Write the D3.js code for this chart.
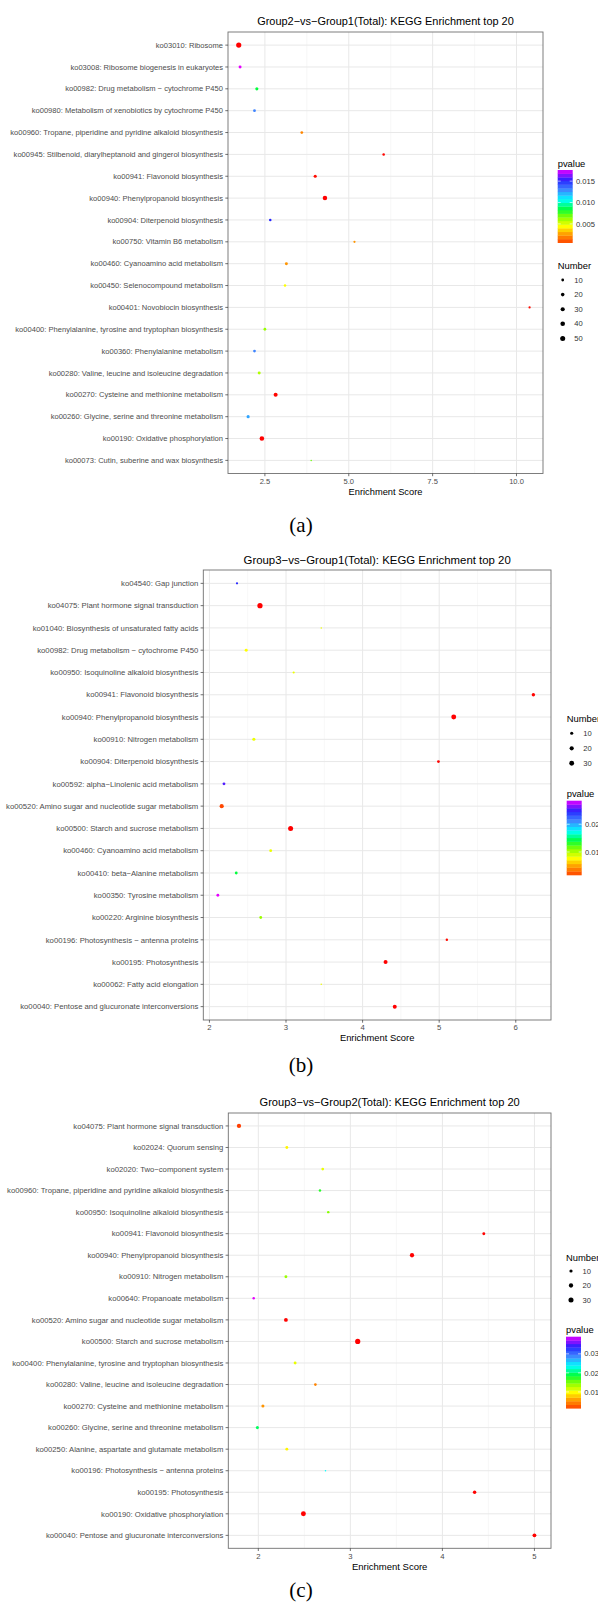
<!DOCTYPE html>
<html lang="en">
<head>
    <meta charset="UTF-8">
    <title>KEGG Enrichment top 20</title>
    <script src="https://d3js.org/d3.v7.min.js"></script>
    <style>
        body { margin: 0; padding: 0; background: #ffffff; overflow: hidden; }
        svg { display: block; font-family: "Liberation Sans", Arial, sans-serif; }
        .ylab, .xlab { fill: #4d4d4d; }
        .ptitle { fill: #000; }
        .axtitle { fill: #000; }
        .legtitle { fill: #000; font-size: 9.4px; }
        .leglab { fill: #333; font-size: 7.6px; }
        .caption { fill: #000; font-family: "Liberation Serif", "Times New Roman", serif; font-size: 21px; }
    </style>
</head>
<body>
<svg id="chart" width="598" height="1622"></svg>
<script>
    // --- data: panel (a) Group2 vs Group1 ---
    const termsA = [
        "ko03010: Ribosome",
        "ko03008: Ribosome biogenesis in eukaryotes",
        "ko00982: Drug metabolism \u2212 cytochrome P450",
        "ko00980: Metabolism of xenobiotics by cytochrome P450",
        "ko00960: Tropane, piperidine and pyridine alkaloid biosynthesis",
        "ko00945: Stilbenoid, diarylheptanoid and gingerol biosynthesis",
        "ko00941: Flavonoid biosynthesis",
        "ko00940: Phenylpropanoid biosynthesis",
        "ko00904: Diterpenoid biosynthesis",
        "ko00750: Vitamin B6 metabolism",
        "ko00460: Cyanoamino acid metabolism",
        "ko00450: Selenocompound metabolism",
        "ko00401: Novobiocin biosynthesis",
        "ko00400: Phenylalanine, tyrosine and tryptophan biosynthesis",
        "ko00360: Phenylalanine metabolism",
        "ko00280: Valine, leucine and isoleucine degradation",
        "ko00270: Cysteine and methionine metabolism",
        "ko00260: Glycine, serine and threonine metabolism",
        "ko00190: Oxidative phosphorylation",
        "ko00073: Cutin, suberine and wax biosynthesis"
    ];
    const scoreA = [1.72, 1.76, 2.26, 2.19, 3.60, 6.04, 4.00, 4.29, 2.66, 5.17,
                    3.14, 3.10, 10.39, 2.50, 2.19, 2.33, 2.82, 2.00, 2.41, 3.88];
    const countA = [55, 12, 14, 10, 10, 8, 14, 38, 8, 6,
                    12, 8, 6, 10, 10, 12, 28, 14, 40, 4];
    const pvalA = [0.0006, 0.0176, 0.0091, 0.0134, 0.0032, 0.0007, 0.0008, 0.0006, 0.0154, 0.0035,
                   0.0035, 0.0054, 0.0008, 0.0071, 0.0134, 0.0067, 0.0007, 0.0128, 0.0006, 0.0077];

    // --- data: panel (b) Group3 vs Group1 ---
    const termsB = [
        "ko04540: Gap junction",
        "ko04075: Plant hormone signal transduction",
        "ko01040: Biosynthesis of unsaturated fatty acids",
        "ko00982: Drug metabolism \u2212 cytochrome P450",
        "ko00950: Isoquinoline alkaloid biosynthesis",
        "ko00941: Flavonoid biosynthesis",
        "ko00940: Phenylpropanoid biosynthesis",
        "ko00910: Nitrogen metabolism",
        "ko00904: Diterpenoid biosynthesis",
        "ko00592: alpha\u2212Linolenic acid metabolism",
        "ko00520: Amino sugar and nucleotide sugar metabolism",
        "ko00500: Starch and sucrose metabolism",
        "ko00460: Cyanoamino acid metabolism",
        "ko00410: beta\u2212Alanine metabolism",
        "ko00350: Tyrosine metabolism",
        "ko00220: Arginine biosynthesis",
        "ko00196: Photosynthesis \u2212 antenna proteins",
        "ko00195: Photosynthesis",
        "ko00062: Fatty acid elongation",
        "ko00040: Pentose and glucuronate interconversions"
    ];
    const scoreB = [2.36, 2.66, 3.46, 2.48, 3.10, 6.23, 5.19, 2.58, 4.99, 2.19,
                    2.16, 3.06, 2.80, 2.35, 2.11, 2.67, 5.10, 4.30, 3.46, 4.42];
    const countB = [5, 35, 4, 9, 5, 12, 30, 10, 8, 8,
                    20, 32, 8, 8, 8, 8, 6, 18, 4, 18];
    const pvalB = [0.0250, 0.0017, 0.0097, 0.0092, 0.0097, 0.0018, 0.0017, 0.0097, 0.0018, 0.0258,
                   0.0038, 0.0017, 0.0097, 0.0151, 0.0285, 0.0119, 0.0020, 0.0017, 0.0097, 0.0017];

    // --- data: panel (c) Group3 vs Group2 ---
    const termsC = [
        "ko04075: Plant hormone signal transduction",
        "ko02024: Quorum sensing",
        "ko02020: Two\u2212component system",
        "ko00960: Tropane, piperidine and pyridine alkaloid biosynthesis",
        "ko00950: Isoquinoline alkaloid biosynthesis",
        "ko00941: Flavonoid biosynthesis",
        "ko00940: Phenylpropanoid biosynthesis",
        "ko00910: Nitrogen metabolism",
        "ko00640: Propanoate metabolism",
        "ko00520: Amino sugar and nucleotide sugar metabolism",
        "ko00500: Starch and sucrose metabolism",
        "ko00400: Phenylalanine, tyrosine and tryptophan biosynthesis",
        "ko00280: Valine, leucine and isoleucine degradation",
        "ko00270: Cysteine and methionine metabolism",
        "ko00260: Glycine, serine and threonine metabolism",
        "ko00250: Alanine, aspartate and glutamate metabolism",
        "ko00196: Photosynthesis \u2212 antenna proteins",
        "ko00195: Photosynthesis",
        "ko00190: Oxidative phosphorylation",
        "ko00040: Pentose and glucuronate interconversions"
    ];
    const scoreC = [1.79, 2.31, 2.70, 2.67, 2.76, 4.45, 3.67, 2.30, 1.95, 2.30,
                    3.08, 2.40, 2.62, 2.05, 1.99, 2.31, 2.73, 4.35, 2.49, 5.00];
    const countC = [20, 8, 7, 6, 6, 8, 20, 8, 6, 15,
                    32, 8, 7, 9, 9, 8, 4, 12, 28, 15];
    const pvalC = [0.0040, 0.0116, 0.0127, 0.0191, 0.0164, 0.0015, 0.0014, 0.0157, 0.0390, 0.0015,
                   0.0014, 0.0127, 0.0070, 0.0078, 0.0210, 0.0116, 0.0247, 0.0015, 0.0014, 0.0015];

    // axis ticks and legend breaks
    const xTicksA = [2.5, 5.0, 7.5, 10.0];
    const xTicksB = [2, 3, 4, 5, 6];
    const xTicksC = [2, 3, 4, 5];
    const pBreaksA = [0.005, 0.010, 0.015];
    const pBreaksB = [0.01, 0.02];
    const pBreaksC = [0.01, 0.02, 0.03];
    const nBreaksA = [10, 20, 30, 40, 50];
    const nBreaksB = [10, 20, 30];
    const nBreaksC = [10, 20, 30];

    const titles = [
        "Group2\u2212vs\u2212Group1(Total): KEGG Enrichment top 20",
        "Group3\u2212vs\u2212Group1(Total): KEGG Enrichment top 20",
        "Group3\u2212vs\u2212Group2(Total): KEGG Enrichment top 20"
    ];
    const captions = ["(a)", "(b)", "(c)"];

    // rainbow-like gradient, low p = red, high p = magenta
    const colorStops = [0, 0.10, 0.20, 0.28, 0.40, 0.50, 0.62, 0.75, 0.87, 1];
    const colorRange = ["#ff0000", "#ff5a00", "#ffae00", "#ffff00", "#86ff00",
                        "#00ff3c", "#00ffff", "#3f86ff", "#2424ff", "#e600ff"];

    const svg = d3.select("#chart");
    svg.append("rect").attr("width", 598).attr("height", 1622).attr("fill", "#fff");

    const panels = [
        { terms: termsA, score: scoreA, count: countA, pval: pvalA,
          xTicks: xTicksA, xFmt: d3.format(".1f"), pBreaks: pBreaksA, pFmt: d3.format(".3f"), nBreaks: nBreaksA,
          left: 228, right: 543, top: 32, bottom: 473.5, xDomain: [1.40, 10.79],
          labSize: 7.57, titleSize: 10.95, axSize: 9.3,
          titleY: 25, legX: 557.7, pTitleY: 166.5, barTop: 170, barBottom: 242.7,
          nTitleY: 269, nFirstY: 280, nStep: 14.6, capY: 532 },
        { terms: termsB, score: scoreB, count: countB, pval: pvalB,
          xTicks: xTicksB, xFmt: d3.format("d"), pBreaks: pBreaksB, pFmt: d3.format(".2f"), nBreaks: nBreaksB,
          left: 203.3, right: 551, top: 570, bottom: 1020, xDomain: [1.92, 6.46],
          labSize: 7.73, titleSize: 11.4, axSize: 9.4,
          titleY: 563.8, legX: 566.7, pTitleY: 797.3, barTop: 800.7, barBottom: 875,
          nTitleY: 722.3, nFirstY: 733.3, nStep: 15, capY: 1072 },
        { terms: termsC, score: scoreC, count: countC, pval: pvalC,
          xTicks: xTicksC, xFmt: d3.format("d"), pBreaks: pBreaksC, pFmt: d3.format(".2f"), nBreaks: nBreaksC,
          left: 228.3, right: 551, top: 1113, bottom: 1548.3, xDomain: [1.674, 5.18],
          labSize: 7.69, titleSize: 11.1, axSize: 9.5,
          titleY: 1105.6, legX: 566, pTitleY: 1333.3, barTop: 1336.7, barBottom: 1408.3,
          nTitleY: 1260.6, nFirstY: 1271, nStep: 14.5, capY: 1597 }
    ];

    panels.forEach((p, i) => drawPanel(p, titles[i], captions[i]));

    function drawPanel(p, title, caption) {
        const g = svg.append("g");
        const rows = p.terms.map((t, i) => ({
            term: t, score: p.score[i], count: p.count[i], pval: p.pval[i]
        }));

        const x = d3.scaleLinear().domain(p.xDomain).range([p.left, p.right]);
        const y = d3.scalePoint().domain(p.terms).range([p.top, p.bottom]).padding(0.6);

        const pExt = d3.extent(p.pval);
        const pNorm = d3.scaleLinear().domain(pExt).range([0, 1]);
        const colorT = d3.scaleLinear().domain(colorStops).range(colorRange).interpolate(d3.interpolateRgb);
        const color = v => colorT(pNorm(v));

        const nExt = d3.extent(p.count);
        const nNorm = d3.scaleLinear().domain(nExt).range([0, 1]).clamp(true);
        const radius = v => 0.75 + 1.85 * Math.sqrt(nNorm(v));

        // minor grid lines: midpoints between major ticks
        const step = p.xTicks[1] - p.xTicks[0];
        const minors = [p.xTicks[0] - step / 2].concat(p.xTicks.map(t => t + step / 2))
            .filter(v => v > p.xDomain[0] && v < p.xDomain[1]);

        g.append("g").selectAll("line").data(minors).join("line")
            .attr("x1", d => x(d)).attr("x2", d => x(d))
            .attr("y1", p.top).attr("y2", p.bottom)
            .attr("stroke", "#f2f2f2").attr("stroke-width", 0.6);

        g.append("g").selectAll("line").data(p.xTicks).join("line")
            .attr("x1", d => x(d)).attr("x2", d => x(d))
            .attr("y1", p.top).attr("y2", p.bottom)
            .attr("stroke", "#e8e8e8").attr("stroke-width", 1);

        g.append("g").selectAll("line").data(p.terms).join("line")
            .attr("x1", p.left).attr("x2", p.right)
            .attr("y1", d => y(d)).attr("y2", d => y(d))
            .attr("stroke", "#e8e8e8").attr("stroke-width", 1);

        // points
        g.append("g").selectAll("circle").data(rows).join("circle")
            .attr("cx", d => x(d.score))
            .attr("cy", d => y(d.term))
            .attr("r", d => radius(d.count))
            .attr("fill", d => color(d.pval));

        // panel border
        g.append("rect")
            .attr("x", p.left).attr("y", p.top)
            .attr("width", p.right - p.left).attr("height", p.bottom - p.top)
            .attr("fill", "none").attr("stroke", "#707070").attr("stroke-width", 0.9);

        // y axis
        const yAxis = g.append("g");
        yAxis.selectAll("line").data(p.terms).join("line")
            .attr("x1", p.left - 2.7).attr("x2", p.left)
            .attr("y1", d => y(d)).attr("y2", d => y(d))
            .attr("stroke", "#333").attr("stroke-width", 0.7);
        yAxis.selectAll("text").data(p.terms).join("text")
            .attr("class", "ylab")
            .attr("font-size", p.labSize)
            .attr("x", p.left - 5).attr("y", d => y(d)).attr("dy", "0.35em")
            .attr("text-anchor", "end")
            .text(d => d);

        // x axis
        const xAxis = g.append("g");
        xAxis.selectAll("line").data(p.xTicks).join("line")
            .attr("x1", d => x(d)).attr("x2", d => x(d))
            .attr("y1", p.bottom).attr("y2", p.bottom + 2.7)
            .attr("stroke", "#333").attr("stroke-width", 0.7);
        xAxis.selectAll("text").data(p.xTicks).join("text")
            .attr("class", "xlab")
            .attr("font-size", p.labSize)
            .attr("x", d => x(d)).attr("y", p.bottom + 10.4)
            .attr("text-anchor", "middle")
            .text(d => p.xFmt(d));

        g.append("text").attr("class", "axtitle")
            .attr("font-size", p.axSize)
            .attr("x", (p.left + p.right) / 2).attr("y", p.bottom + 21.3)
            .attr("text-anchor", "middle").text("Enrichment Score");

        g.append("text").attr("class", "ptitle")
            .attr("font-size", p.titleSize)
            .attr("x", (p.left + p.right) / 2).attr("y", p.titleY)
            .attr("text-anchor", "middle").text(title);

        // pvalue colour bar
        const bw = 15;
        g.append("text").attr("class", "legtitle")
            .attr("x", p.legX).attr("y", p.pTitleY).text("pvalue");
        const nbin = 20;
        const bh = (p.barBottom - p.barTop) / nbin;
        const binT = d3.scaleLinear().domain([0, nbin]).range([0.07, 1]);
        g.append("g").selectAll("rect").data(d3.range(nbin)).join("rect")
            .attr("x", p.legX).attr("width", bw)
            .attr("y", k => p.barBottom - (k + 1) * bh).attr("height", bh + 0.3)
            .attr("fill", k => colorT(binT(k + 0.5)));
        const barY = d3.scaleLinear().domain(pExt).range([p.barBottom, p.barTop]);
        const bt = g.append("g");
        bt.selectAll("line.l").data(p.pBreaks).join("line")
            .attr("x1", p.legX).attr("x2", p.legX + 3)
            .attr("y1", d => barY(d)).attr("y2", d => barY(d))
            .attr("stroke", "#fff").attr("stroke-width", 0.6);
        bt.selectAll("line.r").data(p.pBreaks).join("line")
            .attr("x1", p.legX + bw - 3).attr("x2", p.legX + bw)
            .attr("y1", d => barY(d)).attr("y2", d => barY(d))
            .attr("stroke", "#fff").attr("stroke-width", 0.6);
        bt.selectAll("text").data(p.pBreaks).join("text")
            .attr("class", "leglab")
            .attr("x", p.legX + bw + 3.2).attr("y", d => barY(d)).attr("dy", "0.35em")
            .text(d => p.pFmt(d));

        // Number size legend
        g.append("text").attr("class", "legtitle")
            .attr("x", p.legX).attr("y", p.nTitleY).text("Number");
        const nl = g.append("g").selectAll("g").data(p.nBreaks).join("g")
            .attr("transform", (d, k) => `translate(${p.legX + 5},${p.nFirstY + k * p.nStep})`);
        nl.append("circle").attr("r", d => radius(d)).attr("fill", "#000");
        nl.append("text").attr("class", "leglab")
            .attr("x", 11.5).attr("dy", "0.35em").text(d => d);

        svg.append("text").attr("class", "caption")
            .attr("x", 301).attr("y", p.capY)
            .attr("text-anchor", "middle").text(caption);
    }
</script>
</body>
</html>
